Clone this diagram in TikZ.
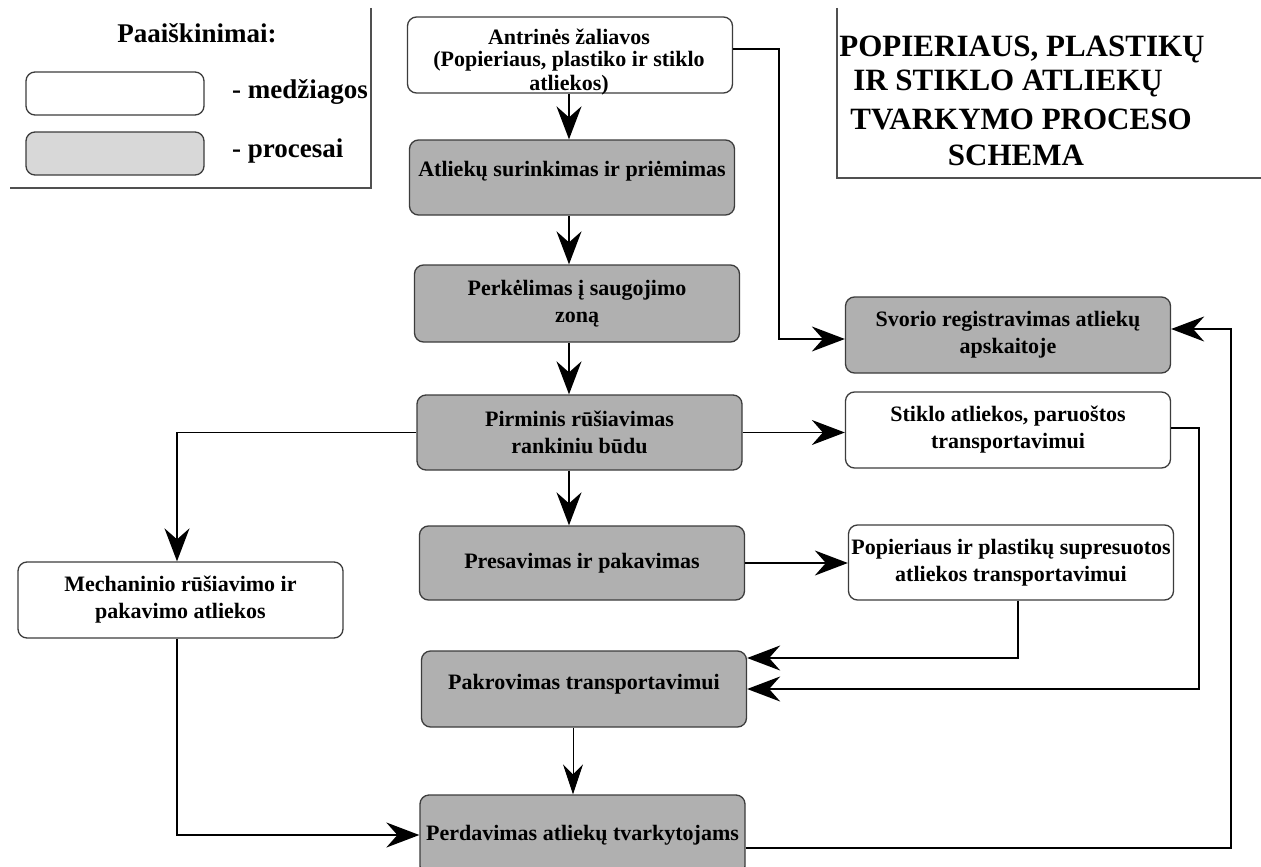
\documentclass[tikz,border=0pt]{standalone}
\usepackage{fontspec}
\setmainfont{Liberation Serif}
\usetikzlibrary{arrows.meta}
\definecolor{procgray}{RGB}{176,176,176}
\definecolor{leggray}{RGB}{216,216,216}
\definecolor{edgegray}{RGB}{60,60,60}
\definecolor{framegray}{RGB}{80,80,80}
\begin{document}
\begin{tikzpicture}[x=1pt,y=-1pt,
  boxbase/.style={draw=edgegray, line width=1.3pt, rounded corners=9pt, inner sep=0pt,
    align=center, font=\bfseries\fontsize{22pt}{27pt}\selectfont,
    minimum width=325pt, minimum height=76pt},
  matbox/.style={boxbase, fill=white},
  procbox/.style={boxbase, fill=procgray},
  boxtxt/.style={inner sep=0pt, align=center, font=\bfseries\fontsize{22pt}{27pt}\selectfont},
  conn/.style={line width=1.8pt, -{Stealth[length=33pt,width=25pt,inset=11pt]}},
  thinconn/.style={line width=1pt, -{Stealth[length=30pt,width=20pt,inset=10pt]}},
  legtxt/.style={font=\bfseries\fontsize{27pt}{32pt}\selectfont, inner sep=0pt},
  titletxt/.style={font=\bfseries\fontsize{31pt}{36pt}\selectfont, inner sep=0pt, anchor=base},
  framestyle/.style={draw=framegray, line width=2pt}
]
\useasboundingbox (0,0) rectangle (1261,867);
\clip (0,0) rectangle (1261,867);
\fill[white] (0,0) rectangle (1261,867);

% legend
\draw[framestyle] (371,8) |- (10,188);
\node[legtxt, anchor=base] (legtitle) at (197,43) {Paaiškinimai:};
\node[boxbase, fill=white, minimum width=178pt, minimum height=43pt] (legmat) at (115,93.5) {};
\node[boxbase, fill=leggray, minimum width=178pt, minimum height=43pt] (legproc) at (115,153.5) {};
\node[legtxt, anchor=base west] (legmattxt) at (232,98) {- medžiagos};
\node[legtxt, anchor=base west] (legproctxt) at (232,157) {- procesai};

% title
\draw[framestyle] (837,8) |- (1261,178);
\node[titletxt] (t1) at (1022,57) {POPIERIAUS, PLASTIKŲ};
\node[titletxt] (t2) at (1008,91) {IR STIKLO ATLIEKŲ};
\node[titletxt] (t3) at (1021,129) {TVARKYMO PROCESO};
\node[titletxt] (t4) at (1016,165) {SCHEMA};

% nodes
\node[matbox] (ant) at (570,55) {};
\node[boxtxt] (anttxt) at (569,62) {Antrinės žaliavos\\[-5pt](Popieriaus, plastiko ir stiklo\\[-3pt]atliekos)};
\node[procbox, minimum height=75pt, text depth=18pt] (sur) at (572,177.5) {Atliekų surinkimas ir priėmimas};
\node[procbox, minimum height=77pt] (per) at (577,303.5) {Perkėlimas į saugojimo\\zoną};
\node[procbox, minimum height=75pt] (pir) at (579.5,432.5) {Pirminis rūšiavimas\\rankiniu būdu};
\node[procbox, minimum height=74pt] (pre) at (582,563) {Presavimas ir pakavimas};
\node[procbox, text depth=14pt] (pak) at (584,689) {Pakrovimas transportavimui};
\node[procbox, minimum height=80pt] (trf) at (582.5,835) {Perdavimas atliekų tvarkytojams};
\node[procbox] (svo) at (1008,335) {Svorio registravimas atliekų\\apskaitoje};
\node[matbox] (sti) at (1008,430) {Stiklo atliekos, paruoštos\\transportavimui};
\node[matbox, minimum height=75pt] (pop) at (1011,562.5) {Popieriaus ir plastikų supresuotos\\atliekos transportavimui};
\node[matbox] (mec) at (180.5,600) {Mechaninio rūšiavimo ir\\pakavimo atliekos};

% helper coordinates for vertical runs
\coordinate (colA) at (569,0);
\coordinate (colB) at (573,0);
\coordinate (xA) at (779,200);
\coordinate (xL) at (177,0);
\coordinate (xP) at (1018,0);
\coordinate (xS) at (1199,500);
\coordinate (xR) at (1231,500);

% connectors
\draw[conn] (colA |- ant.south) -- (colA |- sur.north);
\draw[conn] (colA |- sur.south) -- (colA |- per.north);
\draw[conn] (colA |- per.south) -- (colA |- pir.north);
\draw[conn] (colA |- pir.south) -- (colA |- pre.north);
\draw[thinconn] (colB |- pak.south) -- (colB |- trf.north);
\draw[conn] ([yshift=6pt]ant.east) -| (xA) |- ([yshift=-4pt]svo.west);
\draw[conn] (pir.west) -| (xL |- mec.north);
\draw[conn] (pir.east) -- (pir.east -| sti.west);
\draw[conn] (pre.east) -- (pre.east -| pop.west);
\draw[conn] (xP |- pop.south) |- ([yshift=31pt]pak.east);
\draw[conn] ([yshift=2pt]sti.east) -| (xS) |- (pak.east);
\draw[conn] (xL |- mec.south) |- (trf.west);
\draw[conn] ([yshift=-13pt]trf.east) -| (xR) |- ([yshift=6pt]svo.east);
\end{tikzpicture}
\end{document}
